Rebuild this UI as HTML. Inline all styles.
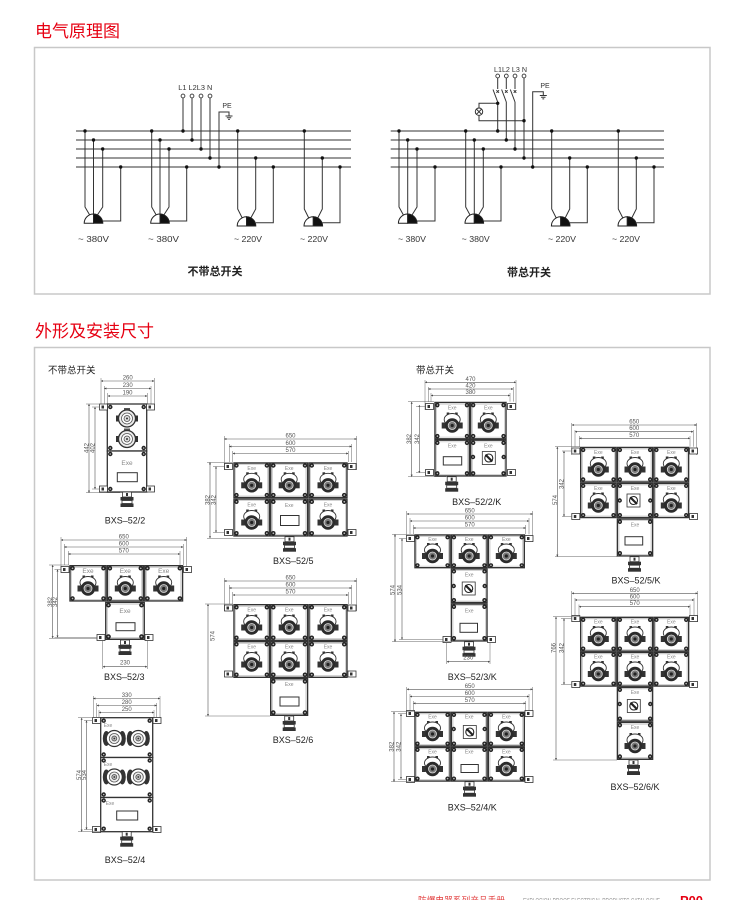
<!DOCTYPE html>
<html><head><meta charset="utf-8">
<style>
html,body{margin:0;padding:0;background:#fff;}
body{width:750px;height:900px;overflow:hidden;position:relative;}
svg{position:absolute;left:0;top:0;}
.dl{stroke:#555;stroke-width:0.6;fill:none;marker-start:url(#ar);marker-end:url(#ar);}
.xl{stroke:#666;stroke-width:0.5;fill:none;}
.dt{font-size:6px;fill:#555;text-anchor:middle;}
.ex{font-size:5px;fill:#888;text-anchor:middle;}
.ex7{font-size:6.5px;fill:#888;text-anchor:middle;}
.lb{font-size:9px;fill:#222;text-anchor:middle;}
.mr{fill:#fff;stroke:#333;stroke-width:1.3;}
.wn{fill:#fff;stroke:#333;stroke-width:1;}
.cv{font-size:8px;fill:#333;}
</style></head><body>
<svg width="750" height="900" viewBox="0 0 750 900" xmlns="http://www.w3.org/2000/svg" font-family="'Liberation Sans','Noto Sans CJK SC',sans-serif">
<defs>
 <marker id="ar" viewBox="0 0 6 6" refX="6" refY="3" markerWidth="3.5" markerHeight="3.5" orient="auto-start-reverse"><path d="M0,0L6,3L0,6z" fill="#444"/></marker>
 <g id="b"><circle r="2.2" fill="#222"/><circle r="0.8" fill="#bbb"/></g>
 <symbol id="M" viewBox="0 0 37 36" preserveAspectRatio="none" overflow="visible">
  <rect x="0.7" y="0.7" width="35.6" height="34.6" fill="#fff" stroke="#333" stroke-width="1.4" vector-effect="non-scaling-stroke"/>
  <rect x="2.3" y="2.3" width="32.4" height="31.4" fill="none" stroke="#aaa" stroke-width="0.5" vector-effect="non-scaling-stroke"/>
  <circle cx="3.2" cy="3.2" r="2.2" fill="#222"/><circle cx="33.8" cy="3.2" r="2.2" fill="#222"/>
  <circle cx="3.2" cy="32.8" r="2.2" fill="#222"/><circle cx="33.8" cy="32.8" r="2.2" fill="#222"/>
  <circle cx="3.2" cy="3.2" r="0.8" fill="#bbb"/><circle cx="33.8" cy="3.2" r="0.8" fill="#bbb"/>
  <circle cx="3.2" cy="32.8" r="0.8" fill="#bbb"/><circle cx="33.8" cy="32.8" r="0.8" fill="#bbb"/>
 </symbol>
 <g id="sk">
  <rect x="-5.5" y="-10.5" width="2.6" height="3.2" fill="#333"/>
  <rect x="2.9" y="-10.5" width="2.6" height="3.2" fill="#333"/>
  <ellipse cx="0" cy="-3.5" rx="8" ry="6" fill="#fff" stroke="#333" stroke-width="0.9"/>
  <rect x="-10.5" y="-0.5" width="3.8" height="6" fill="#333"/>
  <rect x="6.7" y="-0.5" width="3.8" height="6" fill="#333"/>
  <circle cx="0" cy="2.5" r="7.2" fill="#2b2b2b"/>
  <circle cx="0" cy="2.5" r="4" fill="#7a7a7a" stroke="#ddd" stroke-width="0.8"/>
  <circle cx="0" cy="2.5" r="1.6" fill="#222"/>
 </g>
 <g id="rs">
  <rect x="-11" y="-3" width="4" height="6" fill="#333"/>
  <rect x="7" y="-3" width="4" height="6" fill="#333"/>
  <rect x="-3" y="-10.5" width="6" height="2.5" fill="#555"/>
  <circle r="8.5" fill="#eee" stroke="#333" stroke-width="1.3"/>
  <circle r="5.5" fill="#fff" stroke="#555" stroke-width="0.8"/>
  <circle r="3" fill="#ddd" stroke="#444" stroke-width="0.7"/>
  <circle r="1" fill="#333"/>
 </g>
 <g id="rs2">
  <ellipse cx="-8" cy="0" rx="3.5" ry="7.5" fill="#333"/>
  <ellipse cx="8" cy="0" rx="3.5" ry="7.5" fill="#333"/>
  <circle r="8" fill="#fff" stroke="#333" stroke-width="1.2"/>
  <circle r="5" fill="#eee" stroke="#555" stroke-width="0.8"/>
  <circle r="2.5" fill="#bbb" stroke="#444" stroke-width="0.7"/>
  <circle r="0.9" fill="#333"/>
 </g>
 <g id="sw">
  <rect x="-6.5" y="-6.5" width="13" height="13" fill="#fff" stroke="#333" stroke-width="0.8"/>
  <circle r="4" fill="#fff" stroke="#222" stroke-width="1.1"/>
  <path d="M-2.5,-2.5L3.5,3.5" stroke="#222" stroke-width="2.2"/>
  <circle cx="-2.5" cy="-2.5" r="1.3" fill="#222"/>
 </g>
 <g id="gl">
  <rect x="-4.5" y="0" width="9" height="5" fill="#fff" stroke="#333" stroke-width="0.8"/>
  <rect x="-1" y="1" width="2" height="3" fill="#333"/>
  <rect x="-6.5" y="5" width="13" height="3.5" fill="#333"/>
  <rect x="-5" y="8.5" width="10" height="3" fill="#fff" stroke="#333" stroke-width="0.8"/>
  <rect x="-6.5" y="11.5" width="13" height="3.5" fill="#333"/>
 </g>
 <g id="ft">
  <rect x="-4" y="-3" width="8" height="6" fill="#fff" stroke="#333" stroke-width="0.8"/>
  <rect x="-2" y="-1.5" width="2.5" height="3" fill="#333"/>
 </g>
</defs>

<!-- Titles and boxes -->
<text x="35" y="37" font-size="17" fill="#e60012">电气原理图</text>
<rect x="34.5" y="47.5" width="675.5" height="246.5" fill="none" stroke="#c8c8c8" stroke-width="1.5"/>
<text x="35" y="337" font-size="17" fill="#e60012">外形及安装尺寸</text>
<rect x="34.5" y="347.5" width="675.5" height="532.5" fill="none" stroke="#c8c8c8" stroke-width="1.5"/>

<!-- LEFT CIRCUIT -->
<g stroke="#333" stroke-width="1" fill="none">
 <path d="M76,131H351M76,140H351M76,149H351M76,158H351M76,167H351"/>
 <path d="M183,98V131M192,98V140M201,98V149M210,98V158"/>
 <path d="M219,167V112H229V116M225.5,116H232.5M226.8,117.7H231.2M228.1,119.4H229.9"/>
 <path d="M85,131V207L90,215.5M93.5,140V214M102.7,149V207L97,215.5M120.7,167V221H102.8"/>
 <path d="M151.7,131V207L156.5,215.5M160,140V214M169,149V207L163.5,215.5M186.7,167V221H169.3"/>
 <path d="M237.7,131V209L242.5,218.5M255.7,158V209L250.5,218.5M273.3,167V222.7H255.8"/>
 <path d="M304.3,131V209L309,218.5M322.3,158V209L317.5,218.5M340,167V222.7H322.6"/>
</g>
<g stroke="#222" stroke-width="1">
 <path d="M84.2,223.3A9.3,9.3 0 0 1 93.5,214V223.3Z" fill="#fff"/><path d="M93.5,214A9.3,9.3 0 0 1 102.8,223.3H93.5Z" fill="#111"/>
 <path d="M150.7,223.3A9.3,9.3 0 0 1 160,214V223.3Z" fill="#fff"/><path d="M160,214A9.3,9.3 0 0 1 169.3,223.3H160Z" fill="#111"/>
 <path d="M237.2,226A9.3,9.3 0 0 1 246.5,216.7V226Z" fill="#fff"/><path d="M246.5,216.7A9.3,9.3 0 0 1 255.8,226H246.5Z" fill="#111"/>
 <path d="M304,226A9.3,9.3 0 0 1 313.3,216.7V226Z" fill="#fff"/><path d="M313.3,216.7A9.3,9.3 0 0 1 322.6,226H313.3Z" fill="#111"/>
</g>
<g fill="#111">
 <circle cx="183" cy="131" r="1.7"/><circle cx="192" cy="140" r="1.7"/><circle cx="201" cy="149" r="1.7"/><circle cx="210" cy="158" r="1.7"/><circle cx="219" cy="167" r="1.7"/>
 <circle cx="85" cy="131" r="1.7"/><circle cx="93.5" cy="140" r="1.7"/><circle cx="102.7" cy="149" r="1.7"/><circle cx="120.7" cy="167" r="1.7"/>
 <circle cx="151.7" cy="131" r="1.7"/><circle cx="160" cy="140" r="1.7"/><circle cx="169" cy="149" r="1.7"/><circle cx="186.7" cy="167" r="1.7"/>
 <circle cx="237.7" cy="131" r="1.7"/><circle cx="255.7" cy="158" r="1.7"/><circle cx="273.3" cy="167" r="1.7"/>
 <circle cx="304.3" cy="131" r="1.7"/><circle cx="322.3" cy="158" r="1.7"/><circle cx="340" cy="167" r="1.7"/>
</g>
<g fill="#fff" stroke="#333" stroke-width="0.9">
 <circle cx="183" cy="96" r="1.9"/><circle cx="192" cy="96" r="1.9"/><circle cx="201" cy="96" r="1.9"/><circle cx="210" cy="96" r="1.9"/>
</g>
<text x="178.3" y="90" font-size="7" fill="#333" textLength="34" lengthAdjust="spacingAndGlyphs">L1 L2L3 N</text>
<text x="227" y="108" font-size="7" fill="#333" text-anchor="middle">PE</text>
<text class="cv" x="78" y="242" textLength="31" lengthAdjust="spacingAndGlyphs">~ 380V</text>
<text class="cv" x="148" y="242" textLength="31" lengthAdjust="spacingAndGlyphs">~ 380V</text>
<text class="cv" x="234" y="242" textLength="28" lengthAdjust="spacingAndGlyphs">~ 220V</text>
<text class="cv" x="300" y="242" textLength="28" lengthAdjust="spacingAndGlyphs">~ 220V</text>
<text x="215" y="275" font-size="11" font-weight="bold" fill="#222" text-anchor="middle">不带总开关</text>

<!-- RIGHT CIRCUIT -->
<g stroke="#333" stroke-width="1" fill="none">
 <path d="M390.7,131H664M390.7,140H664M390.7,149H664M390.7,158H664M390.7,167H664"/>
 <path d="M497.7,78V89M496.4,90.2L499,92.8M499,90.2L496.4,92.8M493,89.5L497.7,102M497.7,102V131"/>
 <path d="M506.3,78V89M505,90.2L507.6,92.8M507.6,90.2L505,92.8M501.6,89.5L506.3,102M506.3,102V140"/>
 <path d="M515,78V89M513.7,90.2L516.3,92.8M516.3,90.2L513.7,92.8M510.3,89.5L515,102M515,102V149"/>
 <path d="M524,78V158"/>
 <circle cx="479" cy="111.7" r="3.7"/>
 <path d="M476.4,109.1L481.6,114.3M481.6,109.1L476.4,114.3M479,108V103.3H497.7M479,115.4V120.7H524"/>
 <path d="M532.7,167V91.7H543.3V95.5M539.8,95.5H546.8M541.1,97.2H545.5M542.4,98.9H544.2"/>
 <path d="M399,131V207L403.7,215.5M407.7,140V214M417,149V207L411.7,215.5M435,167V221H417"/>
 <path d="M465.7,131V207L470.3,215.5M474.3,140V214M483.3,149V207L478.3,215.5M501,167V221H483.6"/>
 <path d="M551.7,131V209L556.5,218.5M569.7,158V209L564.9,218.5M587.3,167V222.7H570"/>
 <path d="M618.3,131V209L623.1,218.5M636.3,158V209L631.5,218.5M654,167V222.7H636.6"/>
</g>
<g stroke="#222" stroke-width="1">
 <path d="M398.4,223.3A9.3,9.3 0 0 1 407.7,214V223.3Z" fill="#fff"/><path d="M407.7,214A9.3,9.3 0 0 1 417,223.3H407.7Z" fill="#111"/>
 <path d="M465,223.3A9.3,9.3 0 0 1 474.3,214V223.3Z" fill="#fff"/><path d="M474.3,214A9.3,9.3 0 0 1 483.6,223.3H474.3Z" fill="#111"/>
 <path d="M551.4,226A9.3,9.3 0 0 1 560.7,216.7V226Z" fill="#fff"/><path d="M560.7,216.7A9.3,9.3 0 0 1 570,226H560.7Z" fill="#111"/>
 <path d="M618,226A9.3,9.3 0 0 1 627.3,216.7V226Z" fill="#fff"/><path d="M627.3,216.7A9.3,9.3 0 0 1 636.6,226H627.3Z" fill="#111"/>
</g>
<g fill="#111">
 <circle cx="497.7" cy="103.3" r="1.7"/><circle cx="497.7" cy="131" r="1.7"/><circle cx="506.3" cy="140" r="1.7"/><circle cx="515" cy="149" r="1.7"/>
 <circle cx="524" cy="120.7" r="1.7"/><circle cx="524" cy="158" r="1.7"/><circle cx="532.7" cy="167" r="1.7"/>
 <circle cx="399" cy="131" r="1.7"/><circle cx="407.7" cy="140" r="1.7"/><circle cx="417" cy="149" r="1.7"/><circle cx="435" cy="167" r="1.7"/>
 <circle cx="465.7" cy="131" r="1.7"/><circle cx="474.3" cy="140" r="1.7"/><circle cx="483.3" cy="149" r="1.7"/><circle cx="501" cy="167" r="1.7"/>
 <circle cx="551.7" cy="131" r="1.7"/><circle cx="569.7" cy="158" r="1.7"/><circle cx="587.3" cy="167" r="1.7"/>
 <circle cx="618.3" cy="131" r="1.7"/><circle cx="636.3" cy="158" r="1.7"/><circle cx="654" cy="167" r="1.7"/>
</g>
<g fill="#fff" stroke="#333" stroke-width="0.9">
 <circle cx="497.7" cy="76" r="1.9"/><circle cx="506.3" cy="76" r="1.9"/><circle cx="515" cy="76" r="1.9"/><circle cx="524" cy="76" r="1.9"/>
</g>
<text x="494" y="72" font-size="7" fill="#333" textLength="33" lengthAdjust="spacingAndGlyphs">L1L2 L3 N</text>
<text x="545" y="88" font-size="7" fill="#333" text-anchor="middle">PE</text>
<text class="cv" x="398" y="242" textLength="28" lengthAdjust="spacingAndGlyphs">~ 380V</text>
<text class="cv" x="461.7" y="242" textLength="28" lengthAdjust="spacingAndGlyphs">~ 380V</text>
<text class="cv" x="548" y="242" textLength="28" lengthAdjust="spacingAndGlyphs">~ 220V</text>
<text class="cv" x="612" y="242" textLength="28" lengthAdjust="spacingAndGlyphs">~ 220V</text>
<text x="529" y="276" font-size="11" font-weight="bold" fill="#222" text-anchor="middle">带总开关</text>

<!-- Subtitles -->
<text x="48" y="373.5" font-size="9.5" fill="#222">不带总开关</text>
<text x="416" y="373.5" font-size="9.5" fill="#222">带总开关</text>

<!-- BXS-52/2 -->
<g>
 <path class="dl" d="M101,381H154.3"/><path class="dl" d="M104.3,388.5H151"/><path class="dl" d="M107.7,396H147.3"/>
 <path class="xl" d="M101,378V407M154.3,378V407M104.3,386V404M151,386V404M107.7,393V404M147.3,393V404"/>
 <text class="dt" x="127.7" y="379.7">260</text><text class="dt" x="127.7" y="387.2">230</text><text class="dt" x="127.5" y="394.7">190</text>
 <rect class="mr" x="107.3" y="404" width="39.4" height="47"/>
 <rect class="mr" x="107.3" y="451" width="39.4" height="41"/>
 <use href="#b" x="110.3" y="407"/><use href="#b" x="143.7" y="407"/><use href="#b" x="110.3" y="448"/><use href="#b" x="143.7" y="448"/>
 <use href="#b" x="110.3" y="454"/><use href="#b" x="143.7" y="454"/><use href="#b" x="110.3" y="489"/><use href="#b" x="143.7" y="489"/>
 <use href="#ft" x="103.5" y="407"/><use href="#ft" x="150.5" y="407"/><use href="#ft" x="103.5" y="489"/><use href="#ft" x="150.5" y="489"/>
 <use href="#rs" x="127" y="418.5"/><use href="#rs" x="127" y="439"/>
 <text class="ex7" x="127" y="465">Exe</text>
 <rect class="wn" x="117.3" y="472.7" width="20" height="9"/>
 <use href="#gl" x="127" y="492"/>
 <path class="dl" d="M89,404V492.7"/><path class="dl" d="M95,407V489"/>
 <path class="xl" d="M86,404H107M86,492.7H120M92,407H100M92,489H100"/>
 <text class="dt" transform="translate(88.5,448) rotate(-90)">442</text>
 <text class="dt" transform="translate(94.5,448) rotate(-90)">402</text>
 <text class="lb" x="125" y="523.5">BXS–52/2</text>
</g>

<!-- BXS-52/3 -->
<g>
 <path class="dl" d="M61,540H186.7"/><path class="dl" d="M64.3,547H183.3"/><path class="dl" d="M68.3,554H180"/>
 <path class="xl" d="M61,537V572M186.7,537V572M64.3,544V565M183.3,544V565M68.3,551V565M180,551V565"/>
 <text class="dt" x="123.8" y="538.7">650</text><text class="dt" x="123.8" y="545.7">600</text><text class="dt" x="123.8" y="552.7">570</text>
 <use href="#M" x="69.3" y="565" width="37.4" height="36.7"/><use href="#M" x="106.7" y="565" width="37.3" height="36.7"/><use href="#M" x="144" y="565" width="39.3" height="36.7"/>
 <use href="#M" x="105" y="601.7" width="40" height="38.3"/>
 <use href="#ft" x="65" y="569.5"/><use href="#ft" x="187.5" y="569.5"/><use href="#ft" x="101" y="637.5"/><use href="#ft" x="149" y="637.5"/>
 <text class="ex7" x="88" y="573">Exe</text><text class="ex7" x="125.3" y="573">Exe</text><text class="ex7" x="163.7" y="573">Exe</text>
 <use href="#sk" x="88" y="586"/><use href="#sk" x="125.3" y="586"/><use href="#sk" x="163.7" y="586"/>
 <text class="ex7" x="125" y="613">Exe</text>
 <rect class="wn" x="116" y="622.7" width="19" height="8"/>
 <use href="#gl" x="125" y="640"/>
 <path class="dl" d="M52.7,565V638.3"/><path class="dl" d="M57.5,569.5V637.5"/>
 <path class="xl" d="M49,565H69M49,638.3H97M54.5,569.5H61M54.5,637.5H97"/>
 <text class="dt" transform="translate(52.2,602) rotate(-90)">382</text>
 <text class="dt" transform="translate(57,602) rotate(-90)">342</text>
 <path class="dl" d="M102.7,666.7H147.3"/><path class="xl" d="M102.7,641V669M147.3,641V669"/>
 <text class="dt" x="125" y="664.5">230</text>
 <text class="lb" x="124.3" y="680">BXS–52/3</text>
</g>

<!-- BXS-52/4 -->
<g>
 <path class="dl" d="M93.3,698.5H160"/><path class="dl" d="M96.7,705.5H156.7"/><path class="dl" d="M99,712.5H154"/>
 <path class="xl" d="M93.3,696V723M160,696V723M96.7,703V717.7M156.7,703V717.7M99,710V717.7M154,710V717.7"/>
 <text class="dt" x="126.7" y="697">330</text><text class="dt" x="126.7" y="704">280</text><text class="dt" x="126.7" y="711">250</text>
 <rect class="mr" x="100.7" y="717.7" width="52" height="39.8"/>
 <rect class="mr" x="100.7" y="757.5" width="52" height="40"/>
 <rect class="mr" x="100.7" y="797.5" width="52" height="34.2"/>
 <use href="#b" x="103.7" y="720.7"/><use href="#b" x="149.7" y="720.7"/><use href="#b" x="103.7" y="754.5"/><use href="#b" x="149.7" y="754.5"/>
 <use href="#b" x="103.7" y="760.5"/><use href="#b" x="149.7" y="760.5"/><use href="#b" x="103.7" y="794.5"/><use href="#b" x="149.7" y="794.5"/>
 <use href="#b" x="103.7" y="800.5"/><use href="#b" x="149.7" y="800.5"/><use href="#b" x="103.7" y="828.7"/><use href="#b" x="149.7" y="828.7"/>
 <use href="#ft" x="96.5" y="720.5"/><use href="#ft" x="157" y="720.5"/><use href="#ft" x="96.5" y="829.5"/><use href="#ft" x="157" y="829.5"/>
 <use href="#rs2" x="114.3" y="738.5"/><use href="#rs2" x="138.3" y="738.5"/>
 <use href="#rs2" x="114.3" y="777"/><use href="#rs2" x="138.3" y="777"/>
 <text class="ex" x="108" y="727">Exe</text><text class="ex" x="108" y="766">Exe</text><text class="ex" x="110" y="805">Exe</text>
 <rect class="wn" x="116.7" y="811" width="21" height="9"/>
 <use href="#gl" x="126.7" y="831.7"/>
 <path class="dl" d="M81.7,717.7V831.7"/><path class="dl" d="M86.5,720.5V829.5"/>
 <path class="xl" d="M78,717.7H100M78,831.7H100M84,720.5H93M84,829.5H93"/>
 <text class="dt" transform="translate(81.2,775) rotate(-90)">574</text>
 <text class="dt" transform="translate(86,775) rotate(-90)">534</text>
 <text class="lb" x="125" y="863">BXS–52/4</text>
</g>

<!-- BXS-52/5 -->
<g>
 <path class="dl" d="M224.3,439H356.7"/><path class="dl" d="M229.3,446.5H351.7"/><path class="dl" d="M232.7,453.5H348.3"/>
 <path class="xl" d="M224.3,436V470M356.7,436V470M229.3,444V462M351.7,444V462M232.7,451V462M348.3,451V462"/>
 <text class="dt" x="290.5" y="437.5">650</text><text class="dt" x="290.5" y="445">600</text><text class="dt" x="290.5" y="452">570</text>
 <use href="#M" x="233.3" y="462.3" width="36.7" height="36"/><use href="#M" x="270" y="462.3" width="38.3" height="36"/><use href="#M" x="308.3" y="462.3" width="39.4" height="36"/>
 <use href="#M" x="233.3" y="498.3" width="36.7" height="38.4"/><use href="#M" x="270" y="498.3" width="38.3" height="38.4"/><use href="#M" x="308.3" y="498.3" width="39.4" height="38.4"/>
 <use href="#ft" x="228.5" y="466.5"/><use href="#ft" x="352" y="466.5"/><use href="#ft" x="228.5" y="532.5"/><use href="#ft" x="352" y="532.5"/>
 <text class="ex" x="251.7" y="470">Exe</text><text class="ex" x="289.2" y="470">Exe</text><text class="ex" x="328" y="470">Exe</text>
 <text class="ex" x="251.7" y="506.5">Exe</text><text class="ex" x="289.2" y="507">Exe</text><text class="ex" x="328" y="506.5">Exe</text>
 <use href="#sk" x="251.7" y="482.8"/><use href="#sk" x="289.2" y="482.8"/><use href="#sk" x="328" y="482.8"/>
 <use href="#sk" x="251.7" y="520"/><use href="#sk" x="328" y="520"/>
 <rect class="wn" x="280.5" y="515.5" width="18.5" height="10"/>
 <use href="#gl" x="289.5" y="536.7"/>
 <path class="dl" d="M210,462.3V538.3"/><path class="dl" d="M216,466.5V532.5"/>
 <path class="xl" d="M207,462.3H233M207,538.3H285M213,466.5H224M213,532.5H224"/>
 <text class="dt" transform="translate(209.5,500) rotate(-90)">382</text>
 <text class="dt" transform="translate(215.5,500) rotate(-90)">342</text>
 <text class="lb" x="293.3" y="564">BXS–52/5</text>
</g>

<!-- BXS-52/6 -->
<g>
 <path class="dl" d="M224.3,581H356.7"/><path class="dl" d="M229.3,588H351.7"/><path class="dl" d="M232.7,595H348.3"/>
 <path class="xl" d="M224.3,578V611M356.7,578V611M229.3,585V604M351.7,585V604M232.7,592V604M348.3,592V604"/>
 <text class="dt" x="290.5" y="579.5">650</text><text class="dt" x="290.5" y="586.5">600</text><text class="dt" x="290.5" y="593.5">570</text>
 <use href="#M" x="233.3" y="604" width="36.7" height="37"/><use href="#M" x="270" y="604" width="38.3" height="37"/><use href="#M" x="308.3" y="604" width="39.4" height="37"/>
 <use href="#M" x="233.3" y="641" width="36.7" height="37"/><use href="#M" x="270" y="641" width="38.3" height="37"/><use href="#M" x="308.3" y="641" width="39.4" height="37"/>
 <use href="#M" x="270" y="678" width="38.3" height="38"/>
 <use href="#ft" x="228.5" y="608"/><use href="#ft" x="352" y="608"/><use href="#ft" x="228.5" y="674"/><use href="#ft" x="352" y="674"/>
 <text class="ex" x="251.7" y="611.5">Exe</text><text class="ex" x="289.2" y="611.5">Exe</text><text class="ex" x="328" y="611.5">Exe</text>
 <text class="ex" x="251.7" y="648.5">Exe</text><text class="ex" x="289.2" y="648.5">Exe</text><text class="ex" x="328" y="648.5">Exe</text>
 <use href="#sk" x="251.7" y="625"/><use href="#sk" x="289.2" y="625"/><use href="#sk" x="328" y="625"/>
 <use href="#sk" x="251.7" y="662"/><use href="#sk" x="289.2" y="662"/><use href="#sk" x="328" y="662"/>
 <text class="ex" x="289.2" y="686">Exe</text>
 <rect class="wn" x="280" y="697" width="19" height="9"/>
 <use href="#gl" x="289.2" y="716"/>
 <path class="dl" d="M208,604V716"/>
 <path class="xl" d="M205,604H233M205,716H270"/>
 <text class="dt" transform="translate(214.5,636) rotate(-90)">574</text>
 <text class="lb" x="293" y="743">BXS–52/6</text>
</g>

<!-- BXS-52/2/K -->
<g>
 <path class="dl" d="M425,382.3H516"/><path class="dl" d="M428.3,389H513.3"/><path class="dl" d="M431,395.5H510"/>
 <path class="xl" d="M425,380V410M516,380V410M428.3,387V401.7M513.3,387V401.7M431,393V401.7M510,393V401.7"/>
 <text class="dt" x="470.5" y="380.8">470</text><text class="dt" x="470.5" y="387.5">420</text><text class="dt" x="470.5" y="394">380</text>
 <use href="#M" x="434.3" y="401.7" width="35.7" height="37.8"/><use href="#M" x="470" y="401.7" width="36.7" height="37.8"/>
 <use href="#M" x="434.3" y="439.5" width="35.7" height="37.2"/><use href="#M" x="470" y="439.5" width="36.7" height="37.2"/>
 <use href="#ft" x="429.5" y="406.5"/><use href="#ft" x="511.5" y="406.5"/><use href="#ft" x="429.5" y="472.5"/><use href="#ft" x="511.5" y="472.5"/>
 <text class="ex" x="452.2" y="409.5">Exe</text><text class="ex" x="488.3" y="409.5">Exe</text>
 <use href="#sk" x="452.2" y="423"/><use href="#sk" x="488.3" y="423"/>
 <text class="ex" x="452.2" y="447.5">Exe</text><text class="ex" x="488.3" y="447.5">Exe</text>
 <rect class="wn" x="443.3" y="456.7" width="18.4" height="8.3"/>
 <use href="#sw" x="488.8" y="458"/>
 <use href="#b" x="473" y="457"/><use href="#b" x="503.7" y="457"/>
 <use href="#gl" x="451.7" y="476.7"/>
 <path class="dl" d="M411.7,401.7V476.7"/><path class="dl" d="M419.3,405V473"/>
 <path class="xl" d="M408,401.7H434M408,476.7H446M416,406.5H425M416,472.5H425"/>
 <text class="dt" transform="translate(411.2,439) rotate(-90)">382</text>
 <text class="dt" transform="translate(418.8,439) rotate(-90)">342</text>
 <text class="lb" x="476.7" y="505">BXS–52/2/K</text>
</g>

<!-- BXS-52/3/K -->
<g>
 <path class="dl" d="M406.7,514H532.7"/><path class="dl" d="M410,521H529"/><path class="dl" d="M413.3,528H525.7"/>
 <path class="xl" d="M406.7,511V542M532.7,511V542M410,518V534.3M529,518V534.3M413.3,525V534.3M525.7,525V534.3"/>
 <text class="dt" x="469.7" y="512.5">650</text><text class="dt" x="469.7" y="519.5">600</text><text class="dt" x="469.7" y="526.5">570</text>
 <use href="#M" x="414.3" y="534.3" width="36.4" height="34"/><use href="#M" x="450.7" y="534.3" width="37" height="34"/><use href="#M" x="487.7" y="534.3" width="37.3" height="34"/>
 <use href="#M" x="450.7" y="568.3" width="37" height="35"/><use href="#M" x="450.7" y="603.3" width="37" height="38.4"/>
 <use href="#ft" x="410.5" y="538.5"/><use href="#ft" x="529" y="538.5"/><use href="#ft" x="447" y="639.5"/><use href="#ft" x="491.5" y="639.5"/>
 <text class="ex" x="432.5" y="541">Exe</text><text class="ex" x="469.2" y="541">Exe</text><text class="ex" x="506.3" y="541">Exe</text>
 <use href="#sk" x="432.5" y="553.5"/><use href="#sk" x="469.2" y="553.5"/><use href="#sk" x="506.3" y="553.5"/>
 <text class="ex" x="469.2" y="576.5">Exe</text>
 <use href="#sw" x="468.7" y="588.5"/>
 <use href="#b" x="453.7" y="586"/><use href="#b" x="484.7" y="586"/>
 <text class="ex" x="469.2" y="612.5">Exe</text>
 <rect class="wn" x="460" y="623.3" width="17.5" height="9"/>
 <use href="#gl" x="469" y="641.7"/>
 <path class="dl" d="M395,534.3V641.7"/><path class="dl" d="M402,538.5V639.5"/>
 <path class="xl" d="M392,534.3H414M392,641.7H450M399,538.5H406M399,639.5H443"/>
 <text class="dt" transform="translate(394.5,590) rotate(-90)">574</text>
 <text class="dt" transform="translate(401.5,590) rotate(-90)">534</text>
 <path class="dl" d="M446.7,661.7H490"/><path class="xl" d="M446.7,642V664M490,642V664"/>
 <text class="dt" x="468.3" y="659.5">230</text>
 <text class="lb" x="472.3" y="680">BXS–52/3/K</text>
</g>

<!-- BXS-52/4/K -->
<g>
 <path class="dl" d="M406.7,689.3H532.7"/><path class="dl" d="M410,696.5H529"/><path class="dl" d="M413.3,703.3H525.7"/>
 <path class="xl" d="M406.7,687V717M532.7,687V717M410,694V711.7M529,694V711.7M413.3,701V711.7M525.7,701V711.7"/>
 <text class="dt" x="469.7" y="687.8">650</text><text class="dt" x="469.7" y="695">600</text><text class="dt" x="469.7" y="701.8">570</text>
 <use href="#M" x="414.3" y="711.7" width="36.4" height="35"/><use href="#M" x="450.7" y="711.7" width="37" height="35"/><use href="#M" x="487.7" y="711.7" width="37.3" height="35"/>
 <use href="#M" x="414.3" y="746.7" width="36.4" height="35"/><use href="#M" x="450.7" y="746.7" width="37" height="35"/><use href="#M" x="487.7" y="746.7" width="37.3" height="35"/>
 <use href="#ft" x="410.5" y="713.5"/><use href="#ft" x="529" y="713.5"/><use href="#ft" x="410.5" y="779.5"/><use href="#ft" x="529" y="779.5"/>
 <text class="ex" x="432.5" y="718.5">Exe</text><text class="ex" x="469.2" y="718.5">Exe</text><text class="ex" x="506.3" y="718.5">Exe</text>
 <text class="ex" x="432.5" y="753.5">Exe</text><text class="ex" x="469.2" y="753.5">Exe</text><text class="ex" x="506.3" y="753.5">Exe</text>
 <use href="#sk" x="432.5" y="731.5"/><use href="#sk" x="506.3" y="731.5"/>
 <use href="#sk" x="432.5" y="766.5"/><use href="#sk" x="506.3" y="766.5"/>
 <use href="#sw" x="469.8" y="732"/>
 <use href="#b" x="453.7" y="729"/><use href="#b" x="484.7" y="729"/>
 <rect class="wn" x="461" y="764.5" width="17.3" height="8"/>
 <use href="#gl" x="469.5" y="781.7"/>
 <path class="dl" d="M394,711.7V781.7"/><path class="dl" d="M401,714V779"/>
 <path class="xl" d="M391,711.7H414M391,781.7H414M398,713.5H406M398,779.5H406"/>
 <text class="dt" transform="translate(393.5,746.7) rotate(-90)">382</text>
 <text class="dt" transform="translate(400.5,746.7) rotate(-90)">342</text>
 <text class="lb" x="472.3" y="810.5">BXS–52/4/K</text>
</g>

<!-- BXS-52/5/K -->
<g>
 <path class="dl" d="M571.7,425H696.7"/><path class="dl" d="M575,431.7H693.3"/><path class="dl" d="M579.3,438.3H690"/>
 <path class="xl" d="M571.7,423V455M696.7,423V455M575,430V446.7M693.3,430V446.7M579.3,436V446.7M690,436V446.7"/>
 <text class="dt" x="634.2" y="423.5">650</text><text class="dt" x="634.2" y="430.2">600</text><text class="dt" x="634.2" y="436.8">570</text>
 <use href="#M" x="580" y="446.7" width="36.7" height="36"/><use href="#M" x="616.7" y="446.7" width="36.6" height="36"/><use href="#M" x="653.3" y="446.7" width="36" height="36"/>
 <use href="#M" x="580" y="482.7" width="36.7" height="35.6"/><use href="#M" x="616.7" y="482.7" width="36.6" height="35.6"/><use href="#M" x="653.3" y="482.7" width="36" height="35.6"/>
 <use href="#M" x="616.7" y="518.3" width="36.6" height="38.4"/>
 <use href="#ft" x="575.8" y="451"/><use href="#ft" x="693.5" y="451"/><use href="#ft" x="575.8" y="516.5"/><use href="#ft" x="693.5" y="516.5"/>
 <text class="ex" x="598.3" y="454">Exe</text><text class="ex" x="635" y="454">Exe</text><text class="ex" x="671.3" y="454">Exe</text>
 <text class="ex" x="598.3" y="490">Exe</text><text class="ex" x="635" y="490">Exe</text><text class="ex" x="671.3" y="490">Exe</text>
 <use href="#sk" x="598.3" y="467"/><use href="#sk" x="635" y="467"/><use href="#sk" x="671.3" y="467"/>
 <use href="#sk" x="598.3" y="503"/><use href="#sk" x="671.3" y="503"/>
 <use href="#sw" x="633.5" y="500.5"/>
 <use href="#b" x="619.7" y="500.5"/><use href="#b" x="650.3" y="500.5"/>
 <text class="ex" x="635" y="526.5">Exe</text>
 <rect class="wn" x="625" y="536.7" width="17.7" height="8.3"/>
 <use href="#gl" x="634.5" y="556.7"/>
 <path class="dl" d="M557.3,446.7V556.7"/><path class="dl" d="M564,451V516.5"/>
 <path class="xl" d="M555,446.7H580M555,556.7H617M562,451H572M562,516.5H572"/>
 <text class="dt" transform="translate(556.8,500) rotate(-90)">574</text>
 <text class="dt" transform="translate(563.5,484) rotate(-90)">342</text>
 <text class="lb" x="636" y="583.5">BXS–52/5/K</text>
</g>

<!-- BXS-52/6/K -->
<g>
 <path class="dl" d="M571.7,593.3H697.7"/><path class="dl" d="M575,600H694"/><path class="dl" d="M579,606.7H690"/>
 <path class="xl" d="M571.7,591V622M697.7,591V622M575,598V616.7M694,598V616.7M579,604.5V616.7M690,604.5V616.7"/>
 <text class="dt" x="634.7" y="591.8">650</text><text class="dt" x="634.7" y="598.5">600</text><text class="dt" x="634.7" y="605.2">570</text>
 <use href="#M" x="580" y="616.7" width="36.7" height="35"/><use href="#M" x="616.7" y="616.7" width="36.6" height="35"/><use href="#M" x="653.3" y="616.7" width="36" height="35"/>
 <use href="#M" x="580" y="651.7" width="36.7" height="35"/><use href="#M" x="616.7" y="651.7" width="36.6" height="35"/><use href="#M" x="653.3" y="651.7" width="36" height="35"/>
 <use href="#M" x="616.7" y="686.7" width="36.6" height="35"/><use href="#M" x="616.7" y="721.7" width="36.6" height="38.3"/>
 <use href="#ft" x="575.8" y="618.5"/><use href="#ft" x="693.5" y="618.5"/><use href="#ft" x="575.8" y="684.5"/><use href="#ft" x="693.5" y="684.5"/>
 <text class="ex" x="598.3" y="623.5">Exe</text><text class="ex" x="635" y="623.5">Exe</text><text class="ex" x="671.3" y="623.5">Exe</text>
 <text class="ex" x="598.3" y="658.5">Exe</text><text class="ex" x="635" y="658.5">Exe</text><text class="ex" x="671.3" y="658.5">Exe</text>
 <use href="#sk" x="598.3" y="636.5"/><use href="#sk" x="635" y="636.5"/><use href="#sk" x="671.3" y="636.5"/>
 <use href="#sk" x="598.3" y="671.5"/><use href="#sk" x="635" y="671.5"/><use href="#sk" x="671.3" y="671.5"/>
 <text class="ex" x="635" y="694">Exe</text>
 <use href="#sw" x="633.8" y="706"/>
 <use href="#b" x="619.7" y="704"/><use href="#b" x="650.3" y="704"/>
 <text class="ex" x="635" y="729">Exe</text>
 <use href="#sk" x="635" y="743.5"/>
 <use href="#gl" x="633.5" y="760"/>
 <path class="dl" d="M556,616.7V760"/><path class="dl" d="M564,618.5V684.5"/>
 <path class="xl" d="M553,616.7H580M553,760H617M561,618.5H572M561,684.5H572"/>
 <text class="dt" transform="translate(555.5,648) rotate(-90)">766</text>
 <text class="dt" transform="translate(563.5,648) rotate(-90)">342</text>
 <text class="lb" x="635" y="790">BXS–52/6/K</text>
</g>

<!-- Footer (cut off at bottom) -->
<text x="418" y="904" font-size="9.5" fill="#e23c3c" textLength="87" lengthAdjust="spacingAndGlyphs">防爆电器系列产品手册</text>
<text x="523" y="904" font-size="8" fill="#999" textLength="137" lengthAdjust="spacingAndGlyphs">EXPLOSION-PROOF ELECTRICAL PRODUCTS CATALOGUE</text>
<text x="680" y="905" font-size="13" font-weight="bold" fill="#e60012" textLength="23" lengthAdjust="spacingAndGlyphs">P00</text>
</svg>
</body></html>
